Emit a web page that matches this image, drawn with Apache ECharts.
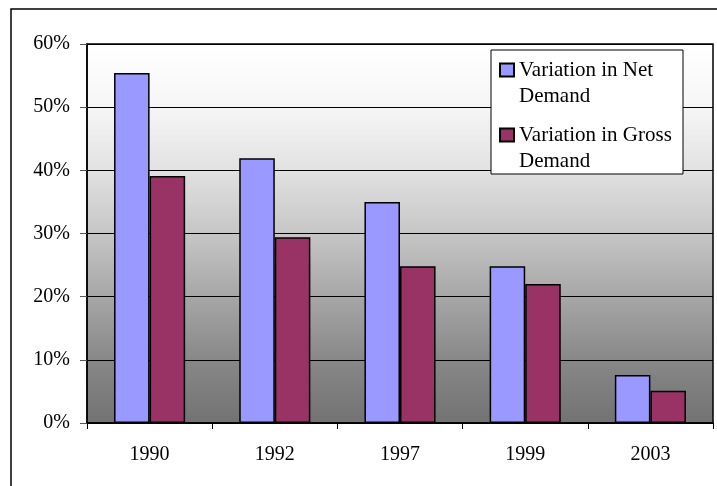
<!DOCTYPE html>
<html>
<head>
<meta charset="utf-8">
<script src="https://cdn.jsdelivr.net/npm/echarts@6/dist/echarts.min.js"></script>
<style>
  html, body { margin: 0; padding: 0; background: #fff; }
  #main { width: 717px; height: 486px; }
</style>
</head>
<body>
<div id="main"></div>
<script>
// data
var years = ['1990', '1992', '1997', '1999', '2003'];
var netDemand = [55.4, 41.9, 35.0, 24.8, 7.6];
var grossDemand = [39.1, 29.4, 24.8, 22.0, 5.1];
var seriesNames = ['Variation in Net Demand', 'Variation in Gross Demand'];
// blank first line keeps the swatch next to the first line of text
var legendLabels = {
  'Variation in Net Demand': ' \nVariation in Net\nDemand',
  'Variation in Gross Demand': ' \nVariation in Gross\nDemand'
};

var font = '"Liberation Serif", "Times New Roman", serif';
var chart = echarts.init(document.getElementById('main'));

chart.setOption({
  animation: false,
  textStyle: { fontFamily: font, color: '#000' },
  graphic: [
    // outer frame
    {
      type: 'rect', z: 0,
      shape: { x: 11, y: 9, width: 720, height: 490 },
      style: { fill: 'none', stroke: '#000', lineWidth: 1.5 }
    },
    // legend box
    {
      type: 'rect', z: 5,
      shape: { x: 491, y: 50, width: 192, height: 124 },
      style: { fill: '#fff', stroke: '#000', lineWidth: 1 }
    }
  ],
  grid: {
    left: 87, right: 4, top: 44, bottom: 63,
    show: true,
    borderColor: '#000',
    borderWidth: 1.5,
    backgroundColor: new echarts.graphic.LinearGradient(0, 0, 0, 1, [
      { offset: 0, color: '#ffffff' },
      { offset: 0.17, color: '#f6f6f6' },
      { offset: 0.33, color: '#e2e2e2' },
      { offset: 0.5, color: '#c6c6c6' },
      { offset: 0.67, color: '#a6a6a6' },
      { offset: 0.83, color: '#888888' },
      { offset: 1, color: '#727272' }
    ])
  },
  legend: {
    orient: 'vertical',
    left: 499,
    top: 31,
    z: 10,
    padding: 0,
    itemGap: -13,
    itemWidth: 14,
    itemHeight: 13,
    icon: 'rect',
    data: seriesNames,
    formatter: function (name) { return legendLabels[name]; },
    textStyle: {
      fontFamily: font,
      fontSize: 21,
      lineHeight: 26,
      color: '#000'
    }
  },
  xAxis: {
    type: 'category',
    data: years,
    axisLine: { lineStyle: { color: '#000', width: 1.5 } },
    axisTick: { show: true, length: 6, lineStyle: { color: '#000' } },
    axisLabel: { fontFamily: font, fontSize: 20, color: '#000', margin: 22 }
  },
  yAxis: {
    type: 'value',
    min: 0, max: 60, interval: 10,
    axisLine: { show: true, lineStyle: { color: '#000', width: 1.5 } },
    axisTick: { show: true, length: 7, lineStyle: { color: '#555' } },
    axisLabel: {
      fontFamily: font, fontSize: 20, color: '#000', margin: 17,
      formatter: '{value}%'
    },
    splitLine: { lineStyle: { color: '#000', width: 1 } }
  },
  series: [
    {
      name: seriesNames[0],
      type: 'bar',
      data: netDemand,
      barWidth: '28.4%',
      barGap: '0%',
      itemStyle: { color: '#9999ff', borderColor: '#000', borderWidth: 1.5 }
    },
    {
      name: seriesNames[1],
      type: 'bar',
      data: grossDemand,
      barWidth: '28.4%',
      itemStyle: { color: '#993366', borderColor: '#000', borderWidth: 1.5 }
    }
  ]
});
</script>
</body>
</html>
